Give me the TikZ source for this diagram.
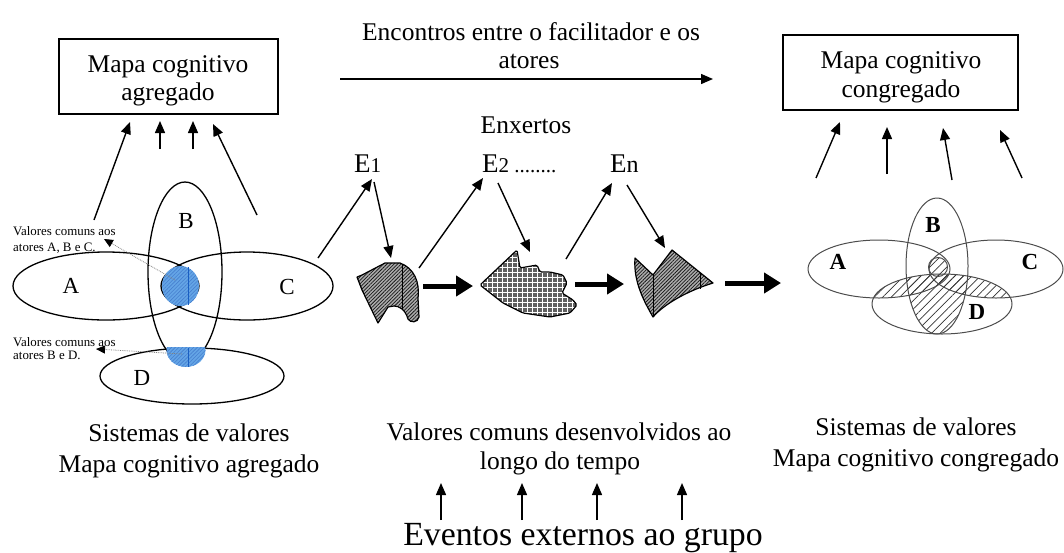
\documentclass[tikz,border=0pt]{standalone}
\usepackage{fontspec}
\setmainfont{Liberation Serif}
\usetikzlibrary{arrows.meta,patterns,patterns.meta}
\definecolor{blueA}{RGB}{100,165,230}
\definecolor{blueB}{RGB}{25,95,195}
\begin{document}
\begin{tikzpicture}[x=1pt,y=-1pt,
  txt/.style={font=\fontsize{25.5}{29.3}\selectfont, inner sep=0pt, anchor=base},
  bigtxt/.style={font=\fontsize{33.8}{38}\selectfont, inner sep=0pt, anchor=base},
  lab/.style={font=\fontsize{23}{26}\selectfont, inner sep=0pt},
  blab/.style={font=\fontsize{23}{26}\selectfont\bfseries, inner sep=0pt},
  smalltxt/.style={font=\fontsize{12.9}{15}\selectfont, inner sep=0pt, anchor=base west},
  etxt/.style={font=\fontsize{27}{30}\selectfont, inner sep=0pt, anchor=base west},
  mapbox/.style={draw, line width=1.6pt, inner sep=0pt},
  arr/.style={line width=1.4pt, -{Triangle[length=12pt,width=10pt]}},
  bigarr/.style={line width=5pt, -{Triangle[length=17pt,width=20pt]}},
  dotarr/.style={gray, line width=0.8pt, densely dotted, -{Triangle[length=9pt,width=8pt,color=black]}},
  ell/.style={line width=1.3pt},
  rell/.style={line width=1pt, black!70},
  gridline/.style={white, line width=0.7pt},
  darkhatch/.style={preaction={fill=gray!65}, pattern={Lines[angle=45,distance=2.5pt,line width=0.75pt]}, pattern color=black!90},
  bluehatch/.style={preaction={fill=blueA}, pattern={Lines[angle=45,distance=2.6pt,line width=0.6pt]}, pattern color=blueB!80},
  thinhatch/.style={pattern={Lines[angle=45,distance=6pt,line width=0.7pt]}, pattern color=black!80}
]
\useasboundingbox (0,0) rectangle (1064,552);

% ---------- top ----------
\node[txt] (enc1) at (531,40) {Encontros entre o facilitador e os};
\node[txt] (enc2) at (529,68) {atores};
\coordinate (topS) at (340,79);
\coordinate (topE) at (713,79);
\draw[arr] (topS) -- (topE);
\node[txt] (enx) at (526,133) {Enxertos};

% ---------- left box ----------
\node[mapbox, minimum width=219pt, minimum height=75pt] (boxL) at (168.5,76.5) {};
\node[txt] (boxL1) at (168,72) {Mapa cognitivo};
\node[txt] (boxL2) at (168,100) {agregado};

\coordinate (la1s) at (94,220);  \coordinate (la1e) at (130,122);
\coordinate (la2s) at (160,149); \coordinate (la2e) at (160,121);
\coordinate (la3s) at (193,149); \coordinate (la3e) at (193,121);
\coordinate (la4s) at (257,215); \coordinate (la4e) at (213,124);
\draw[arr] (la1s) -- (la1e);
\draw[arr] (la2s) -- (la2e);
\draw[arr] (la3s) -- (la3e);
\draw[arr] (la4s) -- (la4e);

% ---------- left ellipses ----------
\draw[ell] (106,286) ellipse [x radius=93pt, y radius=34pt];
\draw[ell] (247,286) ellipse [x radius=86pt, y radius=34pt];
\draw[ell] (185,272) ellipse [x radius=37pt, y radius=90pt];
\draw[ell] (192,376) ellipse [x radius=92pt, y radius=28pt];

\path[bluehatch] (180.5,286) ellipse [x radius=18.5pt, y radius=20pt];
\draw[blueB, line width=1pt] (188,267) -- (188,305);
\begin{scope}
  \clip (150,347.5) rectangle (225,380);
  \path[bluehatch] (186,350) ellipse [x radius=19.5pt, y radius=17pt];
\end{scope}
\draw[blueB, line width=1pt] (188,348) -- (188,367);

\node[lab] (lA) at (71,286) {A};
\node[lab] (lB) at (186,221) {B};
\node[lab] (lC) at (287,287) {C};
\node[lab] (lD) at (142,378) {D};

\node[smalltxt] (v1a) at (13,235) {Valores comuns aos};
\node[smalltxt] (v1b) at (13,251) {atores A, B e C.};
\node[smalltxt] (v2a) at (13,346) {Valores comuns aos};
\node[smalltxt] (v2b) at (13,359) {atores B e D.};
\coordinate (d1s) at (175,280); \coordinate (d1e) at (104,239);
\coordinate (d2s) at (182,354); \coordinate (d2e) at (96,349);
\draw[dotarr] (d1s) -- (d1e);
\draw[dotarr] (d2s) -- (d2e);

\node[txt] (sL1) at (189,441) {Sistemas de valores};
\node[txt] (sL2) at (189,472) {Mapa cognitivo agregado};

% ---------- middle: grafts ----------
\node[etxt] (e1) at (354,172) {E{\fontsize{21}{24}\selectfont 1}};
\node[etxt] (e2) at (482,172) {E{\fontsize{21}{24}\selectfont 2 ........}};
\node[etxt] (en) at (610,172) {E{\fontsize{24}{26}\selectfont n}};

% shape 1
\draw[darkhatch, line width=1.2pt, line join=round]
  (357,277) -- (362,275) -- (385,263) -- (400,263)
  .. controls (414,268) and (420,282) .. (418,298)
  -- (419,317) .. controls (418,323) and (410,323) .. (408,319)
  .. controls (405,309) and (399,306) .. (394,306)
  -- (388,307) -- (378,323) -- (362,290) -- cycle;
\draw[line width=1pt] (402,264) -- (402,309);

% shape 2
\def\shapetwo{(480,285) -- (517,250) -- (520,268) -- (537,265) -- (540,272) -- (550,272)
  -- (563,275) -- (567,283) -- (562,293) -- (573,300) -- (577,305)
  -- (570,313) -- (550,317) -- (523,313) -- (503,303) -- cycle}
\fill[gray!75!black, rounded corners=1.5pt] \shapetwo;
\begin{scope}
  \clip[rounded corners=1.5pt] \shapetwo;
  \foreach \yy in {247,252,...,322} \draw[gridline] (475,\yy) -- (585,\yy);
  \foreach \xx in {477,482,...,582} \draw[gridline] (\xx,245) -- (\xx,325);
\end{scope}
\draw[line width=1.2pt, line join=round, rounded corners=1.5pt] \shapetwo;

% shape 3
\draw[darkhatch, line width=1.2pt, line join=round]
  (635,258) .. controls (633,282) and (645,303) .. (653,317)
  .. controls (665,303) and (690,290) .. (713,283)
  -- (672,250) -- (653,275) -- cycle;
\draw[line width=1pt] (653,275) -- (653,316);
\draw[line width=1pt] (700,273) -- (700,289);

\coordinate (g1s) at (318,258); \coordinate (g1e) at (372,179);
\coordinate (g2s) at (374,182); \coordinate (g2e) at (391,258);
\coordinate (g3s) at (419,268); \coordinate (g3e) at (483,178);
\coordinate (g4s) at (498,183); \coordinate (g4e) at (530,252);
\coordinate (g5s) at (566,259); \coordinate (g5e) at (612,183);
\coordinate (g6s) at (627,185); \coordinate (g6e) at (665,248);
\draw[arr] (g1s) -- (g1e);
\draw[arr] (g2s) -- (g2e);
\draw[arr] (g3s) -- (g3e);
\draw[arr] (g4s) -- (g4e);
\draw[arr] (g5s) -- (g5e);
\draw[arr] (g6s) -- (g6e);

\coordinate (t1s) at (423,286); \coordinate (t1e) at (473,286);
\coordinate (t2s) at (575,284); \coordinate (t2e) at (624,284);
\coordinate (t3s) at (725,283); \coordinate (t3e) at (781,283);
\draw[bigarr] (t1s) -- (t1e);
\draw[bigarr] (t2s) -- (t2e);
\draw[bigarr] (t3s) -- (t3e);

\node[txt] (vm1) at (559,440) {Valores comuns desenvolvidos ao};
\node[txt] (vm2) at (560,469) {longo do tempo};
\coordinate (b1s) at (441,520); \coordinate (b1e) at (441,483);
\coordinate (b2s) at (522,520); \coordinate (b2e) at (522,483);
\coordinate (b3s) at (597,520); \coordinate (b3e) at (597,483);
\coordinate (b4s) at (682,520); \coordinate (b4e) at (682,483);
\draw[arr] (b1s) -- (b1e);
\draw[arr] (b2s) -- (b2e);
\draw[arr] (b3s) -- (b3e);
\draw[arr] (b4s) -- (b4e);
\node[bigtxt] (ev) at (583,545) {Eventos externos ao grupo};

% ---------- right box ----------
\node[mapbox, minimum width=235pt, minimum height=75pt] (boxR) at (900.5,72.5) {};
\node[txt] (boxR1) at (901,68) {Mapa cognitivo};
\node[txt] (boxR2) at (901,97) {congregado};

\coordinate (ra1s) at (816,178);  \coordinate (ra1e) at (840,122);
\coordinate (ra2s) at (887,174);  \coordinate (ra2e) at (887,127);
\coordinate (ra3s) at (952,180);  \coordinate (ra3e) at (943,128);
\coordinate (ra4s) at (1022,178); \coordinate (ra4e) at (1000,130);
\draw[arr] (ra1s) -- (ra1e);
\draw[arr] (ra2s) -- (ra2e);
\draw[arr] (ra3s) -- (ra3e);
\draw[arr] (ra4s) -- (ra4e);

% ---------- right ellipses ----------
\begin{scope}
  \clip (942,304) ellipse [x radius=70pt, y radius=30pt];
  \path[thinhatch] (879,269) ellipse [x radius=71pt, y radius=29pt];
  \path[thinhatch] (996,269) ellipse [x radius=67pt, y radius=29pt];
  \path[thinhatch] (937,266) ellipse [x radius=31pt, y radius=68pt];
\end{scope}
\path[thinhatch] (938,267) circle [radius=9.5pt];
\draw[rell] (879,269) ellipse [x radius=71pt, y radius=29pt];
\draw[rell] (996,269) ellipse [x radius=67pt, y radius=29pt];
\draw[rell] (937,266) ellipse [x radius=31pt, y radius=68pt];
\draw[rell] (942,304) ellipse [x radius=70pt, y radius=30pt];
\draw[rell] (938,267) circle [radius=9.5pt];

\node[blab] (rA) at (838,262) {A};
\node[blab] (rB) at (933,225) {B};
\node[blab] (rC) at (1030,262) {C};
\node[blab] (rD) at (977,312) {D};

\node[txt] (sR1) at (916,435) {Sistemas de valores};
\node[txt] (sR2) at (916,466) {Mapa cognitivo congregado};
\end{tikzpicture}
\end{document}
